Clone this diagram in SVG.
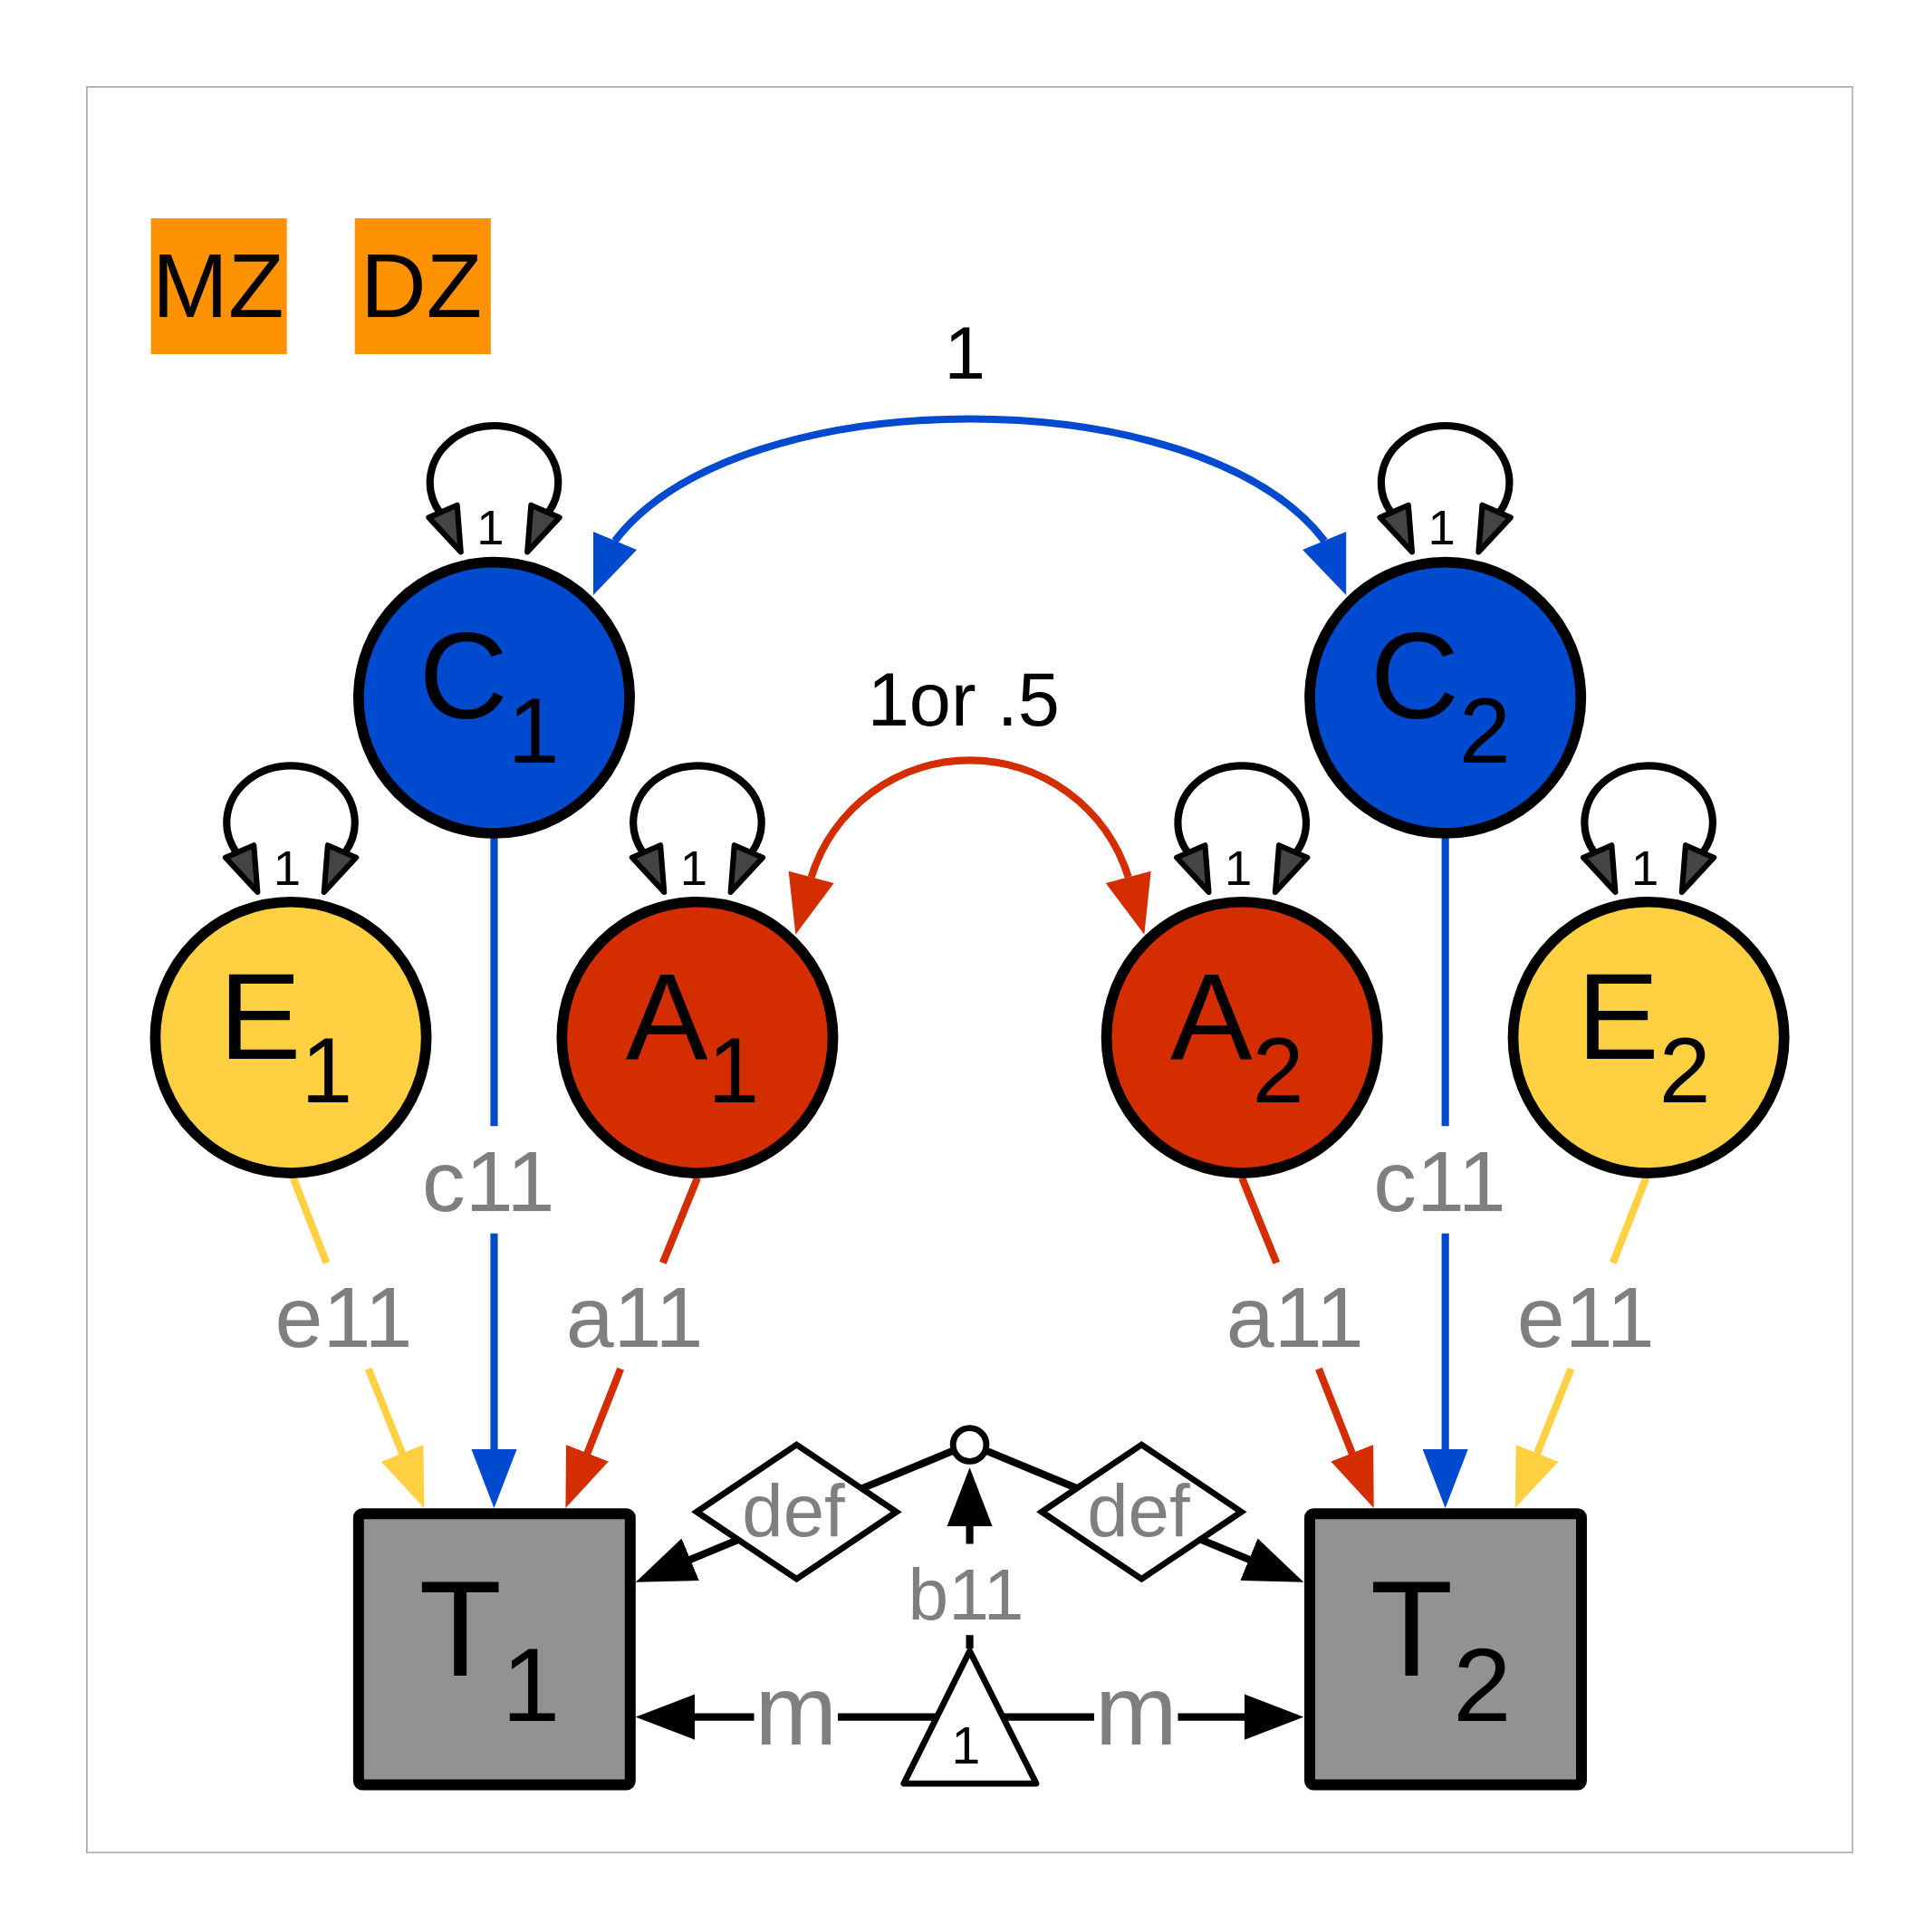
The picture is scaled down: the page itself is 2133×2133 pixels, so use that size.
<svg xmlns="http://www.w3.org/2000/svg" width="2133" height="2133" viewBox="0 0 2133 2133">
<style>
text{font-family:"Liberation Sans",Arial,Helvetica,sans-serif}
.lat{stroke:#000;stroke-width:8.6}
.man{fill:#929292;stroke:#000;stroke-width:8.8}
.nl{fill:#000;text-anchor:middle}
.pl{fill:#7f7f7f;font-size:70px;text-anchor:middle}
.loop{fill:none;stroke:#000;stroke-width:6}
.lh{fill:#444;stroke:#000;stroke-width:4.5;stroke-linejoin:round}
.ln{fill:none;stroke-width:6}
.blue{stroke:#004ad0}
.red{stroke:#d42e00}
.yel{stroke:#ffd142}
.blk{stroke:#000}
.small{fill:#fff;stroke:#000;stroke-width:5}
</style>
<defs>
<marker id="ab" markerUnits="userSpaceOnUse" viewBox="0 0 48 37" refX="38" refY="18.5" markerWidth="48" markerHeight="37" orient="auto"><path d="M0,0L48,18.5L0,37z" fill="#004ad0"/></marker>
<marker id="ar" markerUnits="userSpaceOnUse" viewBox="0 0 48 37" refX="38" refY="18.5" markerWidth="48" markerHeight="37" orient="auto"><path d="M0,0L48,18.5L0,37z" fill="#d42e00"/></marker>
<marker id="ay" markerUnits="userSpaceOnUse" viewBox="0 0 48 37" refX="38" refY="18.5" markerWidth="48" markerHeight="37" orient="auto"><path d="M0,0L48,18.5L0,37z" fill="#ffd142"/></marker>
<marker id="ak" markerUnits="userSpaceOnUse" viewBox="0 0 48 37" refX="38" refY="18.5" markerWidth="48" markerHeight="37" orient="auto"><path d="M0,0L48,18.5L0,37z" fill="#000"/></marker>
<g id="selfloop">
<path class="loop" d="M-44,-150 A52,46 0 1 1 44,-150"/>
<polygon class="lh" points="-53,-146 -30,-156 -27,-118"/>
<polygon class="lh" points="53,-146 30,-156 27,-118"/>
<text x="-3" y="-124" font-size="40" class="nl">1</text>
</g>
</defs>
<rect width="2133" height="2133" fill="#fff"/>
<g transform="scale(1.360332)">
<rect x="70.5" y="70.5" width="1433" height="1433" fill="none" stroke="#b0b0b0" stroke-width="1.3"/>
<g id="groups">
<rect x="122.5" y="177.2" width="110.3" height="110.2" fill="#ff9200"/>
<text x="177" y="257.3" font-size="74" class="nl">MZ</text>
<rect x="288" y="177.2" width="110.3" height="110.2" fill="#ff9200"/>
<text x="342" y="257.3" font-size="74" class="nl">DZ</text>
</g>
<g id="connectors">
<use href="#selfloop" x="401" y="566"/>
<use href="#selfloop" x="1173" y="566"/>
<use href="#selfloop" x="236" y="842"/>
<use href="#selfloop" x="566" y="842"/>
<use href="#selfloop" x="1008" y="842"/>
<use href="#selfloop" x="1338" y="842"/>
<path class="ln blue" d="M499,439 C600,307 974,307 1075,439"/>
<polygon fill="#004ad0" points="481.5,483 481.5,431.5 516.8,446.2"/>
<polygon fill="#004ad0" points="1092.5,483 1092.5,431.5 1057.2,446.2"/>
<text x="783" y="307" font-size="60" class="nl">1</text>
<path class="ln red" d="M658.4,712 A134.7,134.7 0 0 1 915.8,712"/>
<polygon fill="#d42e00" points="645.7,758.4 640,707 676.8,716.8"/>
<polygon fill="#d42e00" points="928.7,758.4 934.1,707 897.4,716.8"/>
<text x="782" y="588.6" font-size="61" class="nl">1or .5</text>
<path class="ln blue" d="M401,680 V914"/>
<path class="ln blue" d="M401,1001 V1214" marker-end="url(#ab)"/>
<text x="396.5" y="983" class="pl">c11</text>
<path class="ln blue" d="M1173,680 V914"/>
<path class="ln blue" d="M1173,1001 V1214" marker-end="url(#ab)"/>
<text x="1168.5" y="983" class="pl">c11</text>
<path class="ln yel" d="M238,956 L265,1025"/>
<path class="ln yel" d="M299,1111 L340.6,1214.7" marker-end="url(#ay)"/>
<text x="279" y="1093" class="pl">e11</text>
<path class="ln red" d="M566,956 L538,1025"/>
<path class="ln red" d="M503.7,1111 L462.7,1214.7" marker-end="url(#ar)"/>
<text x="515" y="1093" class="pl">a11</text>
<path class="ln red" d="M1008,956 L1036,1025"/>
<path class="ln red" d="M1070.3,1111 L1111.3,1214.7" marker-end="url(#ar)"/>
<text x="1051" y="1093" class="pl">a11</text>
<path class="ln yel" d="M1336,956 L1309,1025"/>
<path class="ln yel" d="M1275,1111 L1233.4,1214.7" marker-end="url(#ay)"/>
<text x="1287" y="1093" class="pl">e11</text>
<path class="ln blk" d="M773,1177.7 L525.2,1280.2" marker-end="url(#ak)"/>
<path class="ln blk" d="M801,1177.7 L1048.8,1280.2" marker-end="url(#ak)"/>
<path class="ln blk" d="M787,1393.5 H680"/>
<path class="ln blk" d="M612,1393.5 H526" marker-end="url(#ak)"/>
<text x="646" y="1416" font-size="80" fill="#7f7f7f" text-anchor="middle">m</text>
<path class="ln blk" d="M787,1393.5 H888"/>
<path class="ln blk" d="M956,1393.5 H1048" marker-end="url(#ak)"/>
<text x="922" y="1416" font-size="80" fill="#7f7f7f" text-anchor="middle">m</text>
<path class="ln blk" d="M787,1338 V1327"/>
<path class="ln blk" d="M787,1253 V1201" marker-end="url(#ak)"/>
<text x="784" y="1314.6" font-size="59" fill="#7f7f7f" text-anchor="middle">b11</text>
</g>
<g id="C1"><circle class="lat" cx="401" cy="566.3" r="110" fill="#004ad0"/><text x="397" y="583" font-size="100" class="nl">C<tspan font-size="75" dy="36">1</tspan></text></g>
<g id="C2"><circle class="lat" cx="1173" cy="566.3" r="110" fill="#004ad0"/><text x="1169" y="583" font-size="100" class="nl">C<tspan font-size="75" dy="36">2</tspan></text></g>
<g id="E1"><circle class="lat" cx="236" cy="842" r="110" fill="#ffd142"/><text x="232" y="859" font-size="100" class="nl">E<tspan font-size="75" dy="36">1</tspan></text></g>
<g id="A1"><circle class="lat" cx="566" cy="842" r="110" fill="#d42e00"/><text x="562" y="859" font-size="100" class="nl">A<tspan font-size="75" dy="36">1</tspan></text></g>
<g id="A2"><circle class="lat" cx="1008" cy="842" r="110" fill="#d42e00"/><text x="1004" y="859" font-size="100" class="nl">A<tspan font-size="75" dy="36">2</tspan></text></g>
<g id="E2"><circle class="lat" cx="1338" cy="842" r="110" fill="#ffd142"/><text x="1334" y="859" font-size="100" class="nl">E<tspan font-size="75" dy="36">2</tspan></text></g>
<g id="T1"><rect class="man" x="291" y="1228.5" width="220.5" height="220" rx="3"/><text x="397.3" y="1360" font-size="110" class="nl">T<tspan font-size="85" dy="37">1</tspan></text></g>
<g id="T2"><rect class="man" x="1063" y="1228.5" width="220.5" height="220" rx="3"/><text x="1169.3" y="1360" font-size="110" class="nl">T<tspan font-size="85" dy="37">2</tspan></text></g>
<g id="def1"><polygon class="small" points="565.5,1227 646.5,1172.5 727.5,1227 646.5,1281.5"/><text x="644" y="1247" font-size="60" fill="#7f7f7f" text-anchor="middle">def</text></g>
<g id="def2"><polygon class="small" points="845.5,1227 926.5,1172.5 1007.5,1227 926.5,1281.5"/><text x="924" y="1247" font-size="60" fill="#7f7f7f" text-anchor="middle">def</text></g>
<g id="b11node"><circle class="small" cx="787" cy="1172.5" r="13.5"/></g>
<g id="one"><polygon class="small" points="733.5,1447.5 841,1447.5 787,1340" stroke-width="5.8" stroke-linejoin="round"/><text x="784" y="1431" font-size="42" class="nl">1</text></g>
</g>
</svg>
